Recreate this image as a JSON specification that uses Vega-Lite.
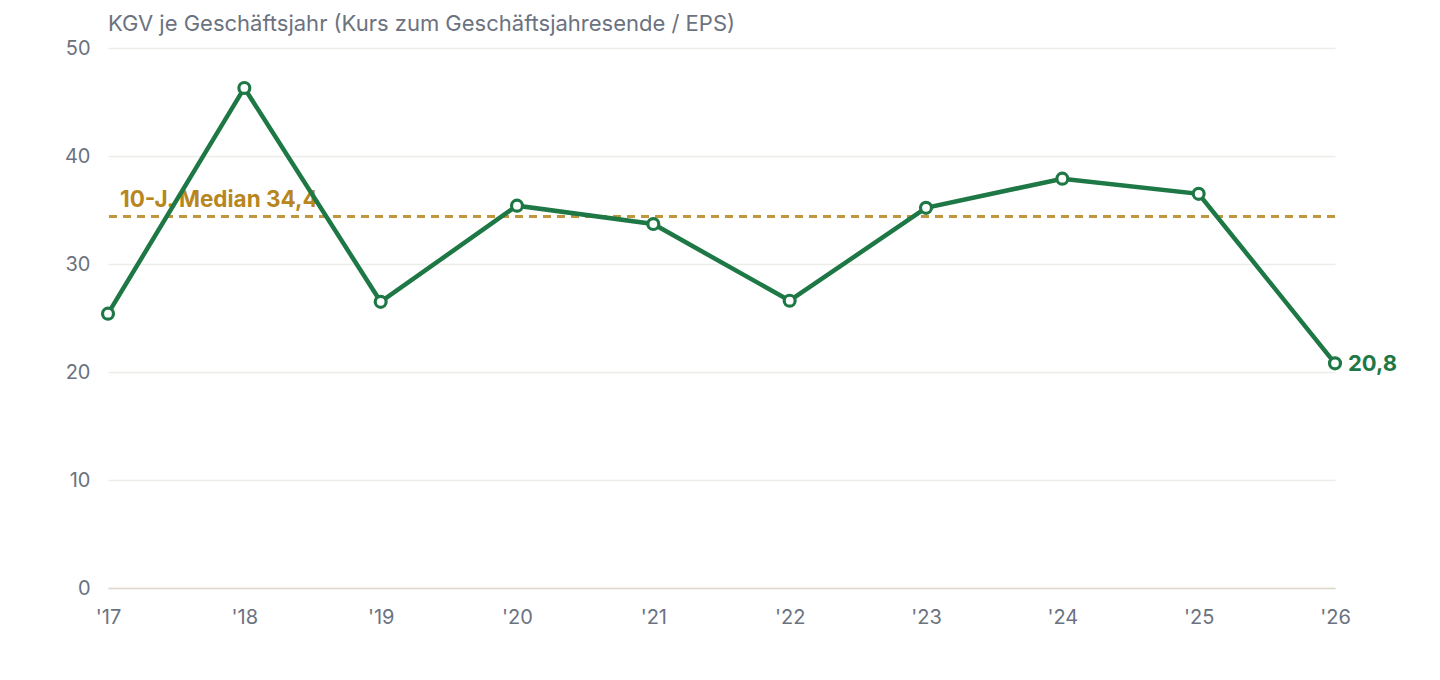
{
  "$schema": "https://vega.github.io/schema/vega-lite/v6.json",
  "width": 1227,
  "height": 540,
  "autosize": {"type": "none"},
  "padding": {"left": 108, "top": 48, "right": 105, "bottom": 92},
  "background": "white",
  "config": {
    "font": "Inter",
    "view": {"stroke": null}
  },
  "title": {
    "text": "KGV je Geschäftsjahr (Kurs zum Geschäftsjahresende / EPS)",
    "anchor": "start",
    "frame": "group",
    "fontSize": 22,
    "fontWeight": "normal",
    "color": "#6b7280",
    "offset": 2
  },
  "data": {
    "values": [
      {"year": "'17", "kgv": 25.4},
      {"year": "'18", "kgv": 46.3},
      {"year": "'19", "kgv": 26.5},
      {"year": "'20", "kgv": 35.4},
      {"year": "'21", "kgv": 33.7},
      {"year": "'22", "kgv": 26.6},
      {"year": "'23", "kgv": 35.2},
      {"year": "'24", "kgv": 37.9},
      {"year": "'25", "kgv": 36.5},
      {"year": "'26", "kgv": 20.8}
    ]
  },
  "encoding": {
    "x": {
      "field": "year",
      "type": "ordinal",
      "sort": null,
      "scale": {"type": "point", "padding": 0},
      "axis": {
        "title": null,
        "labelAngle": 0,
        "labelFontSize": 20,
        "labelColor": "#6b7280",
        "labelPadding": 19,
        "ticks": false,
        "domain": true,
        "domainColor": "#ddd9cd",
        "domainWidth": 1.5,
        "grid": false
      }
    },
    "y": {
      "field": "kgv",
      "type": "quantitative",
      "scale": {"domain": [0, 50]},
      "axis": {
        "title": null,
        "values": [0, 10, 20, 30, 40, 50],
        "labelFontSize": 20,
        "labelColor": "#6b7280",
        "labelPadding": 18,
        "ticks": false,
        "domain": false,
        "grid": true,
        "gridColor": "#ececE8",
        "gridWidth": 1.5
      }
    }
  },
  "layer": [
    {
      "mark": {"type": "rule", "color": "#c0963e", "strokeWidth": 2.5, "strokeDash": [8, 6]},
      "encoding": {"y": {"datum": 34.4}, "x": null}
    },
    {
      "data": {"values": [{"year": "'17", "median": 34.4, "label": "10-J. Median 34,4"}]},
      "mark": {"type": "text", "align": "left", "baseline": "alphabetic", "dx": 12, "dy": -9, "fontSize": 22.5, "fontWeight": "bold", "color": "#b8861f"},
      "encoding": {
        "y": {"field": "median", "type": "quantitative"},
        "text": {"field": "label"}
      }
    },
    {
      "mark": {"type": "line", "color": "#1e7845", "strokeWidth": 4.5},
      "encoding": {}
    },
    {
      "mark": {"type": "point", "filled": true, "fill": "white", "stroke": "#1e7845", "strokeWidth": 3.2, "size": 120, "opacity": 1},
      "encoding": {}
    },
    {
      "transform": [{"filter": "datum.year == \"'26\""}],
      "mark": {"type": "text", "align": "left", "baseline": "middle", "dx": 13, "dy": 1, "fontSize": 22, "fontWeight": "bold", "color": "#1e7845"},
      "encoding": {"text": {"value": "20,8"}}
    }
  ]
}
